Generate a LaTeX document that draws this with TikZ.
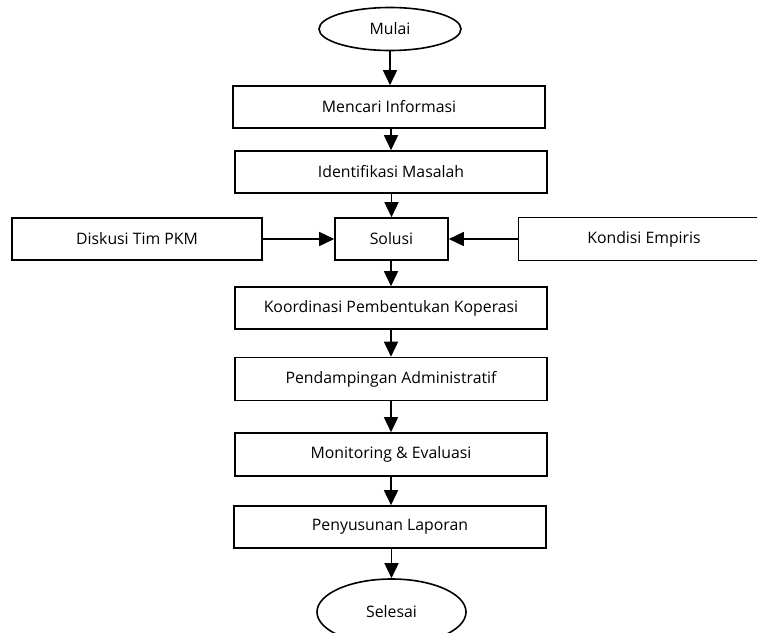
\documentclass[tikz,border=0pt]{standalone}
\usepackage{fontspec}
\setmainfont{Open Sans}
\usetikzlibrary{arrows.meta,shapes.geometric}
\begin{document}
\begin{tikzpicture}[x=1pt,y=-1pt,
  box/.style={draw=black,line width=1.6pt,rectangle,inner sep=0pt,font=\fontsize{15.8}{18}\selectfont},
  oval/.style={draw=black,line width=1.6pt,ellipse,inner sep=0pt,font=\fontsize{15.8}{18}\selectfont},
  flow/.style={line width=1.6pt,-{Triangle[length=15pt,width=14pt]}}]
\useasboundingbox (0,0) rectangle (757,632);
\clip (0,0) rectangle (757,632);
\node[oval,minimum width=142pt,minimum height=43pt] (mulai) at (390,29) {Mulai};
\node[box,minimum width=312pt,minimum height=42pt] (mencari) at (389,107) {Mencari Informasi};
\node[box,minimum width=312pt,minimum height=42pt] (ident) at (391,172) {Identifikasi Masalah};
\node[box,minimum width=113pt,minimum height=42pt] (solusi) at (391.5,239) {Solusi};
\node[box,minimum width=250pt,minimum height=42pt] (diskusi) at (137,239) {Diskusi Tim PKM};
\node[box,minimum width=251pt,minimum height=43pt] (kondisi) at (644,239) {Kondisi Empiris};
\node[box,minimum width=312pt,minimum height=42pt] (koord) at (391,308) {Koordinasi Pembentukan Koperasi};
\node[box,minimum width=312pt,minimum height=43pt] (pend) at (391,379) {Pendampingan Administratif};
\node[box,minimum width=312pt,minimum height=43pt] (monev) at (391,454.5) {Monitoring \& Evaluasi};
\node[box,minimum width=312pt,minimum height=42pt] (lapor) at (390,527) {Penyusunan Laporan};
\node[oval,minimum width=149pt,minimum height=66pt] (selesai) at (391.5,612) {Selesai};
\draw[flow] (mulai.south) -- (mulai.south |- mencari.north);
\draw[flow] (ident.north |- mencari.south) -- (ident.north);
\draw[flow] (solusi.north |- ident.south) -- (solusi.north);
\draw[flow] (diskusi.east) -- (diskusi.east -| solusi.west);
\draw[flow] (kondisi.west) -- (kondisi.west -| solusi.east);
\draw[flow] (koord.north |- solusi.south) -- (koord.north);
\draw[flow] (koord.south) -- (pend.north);
\draw[flow] (pend.south) -- (monev.north);
\draw[flow] (monev.south) -- (monev.south |- lapor.north);
\draw[flow] (selesai.north |- lapor.south) -- (selesai.north);
\end{tikzpicture}
\end{document}
